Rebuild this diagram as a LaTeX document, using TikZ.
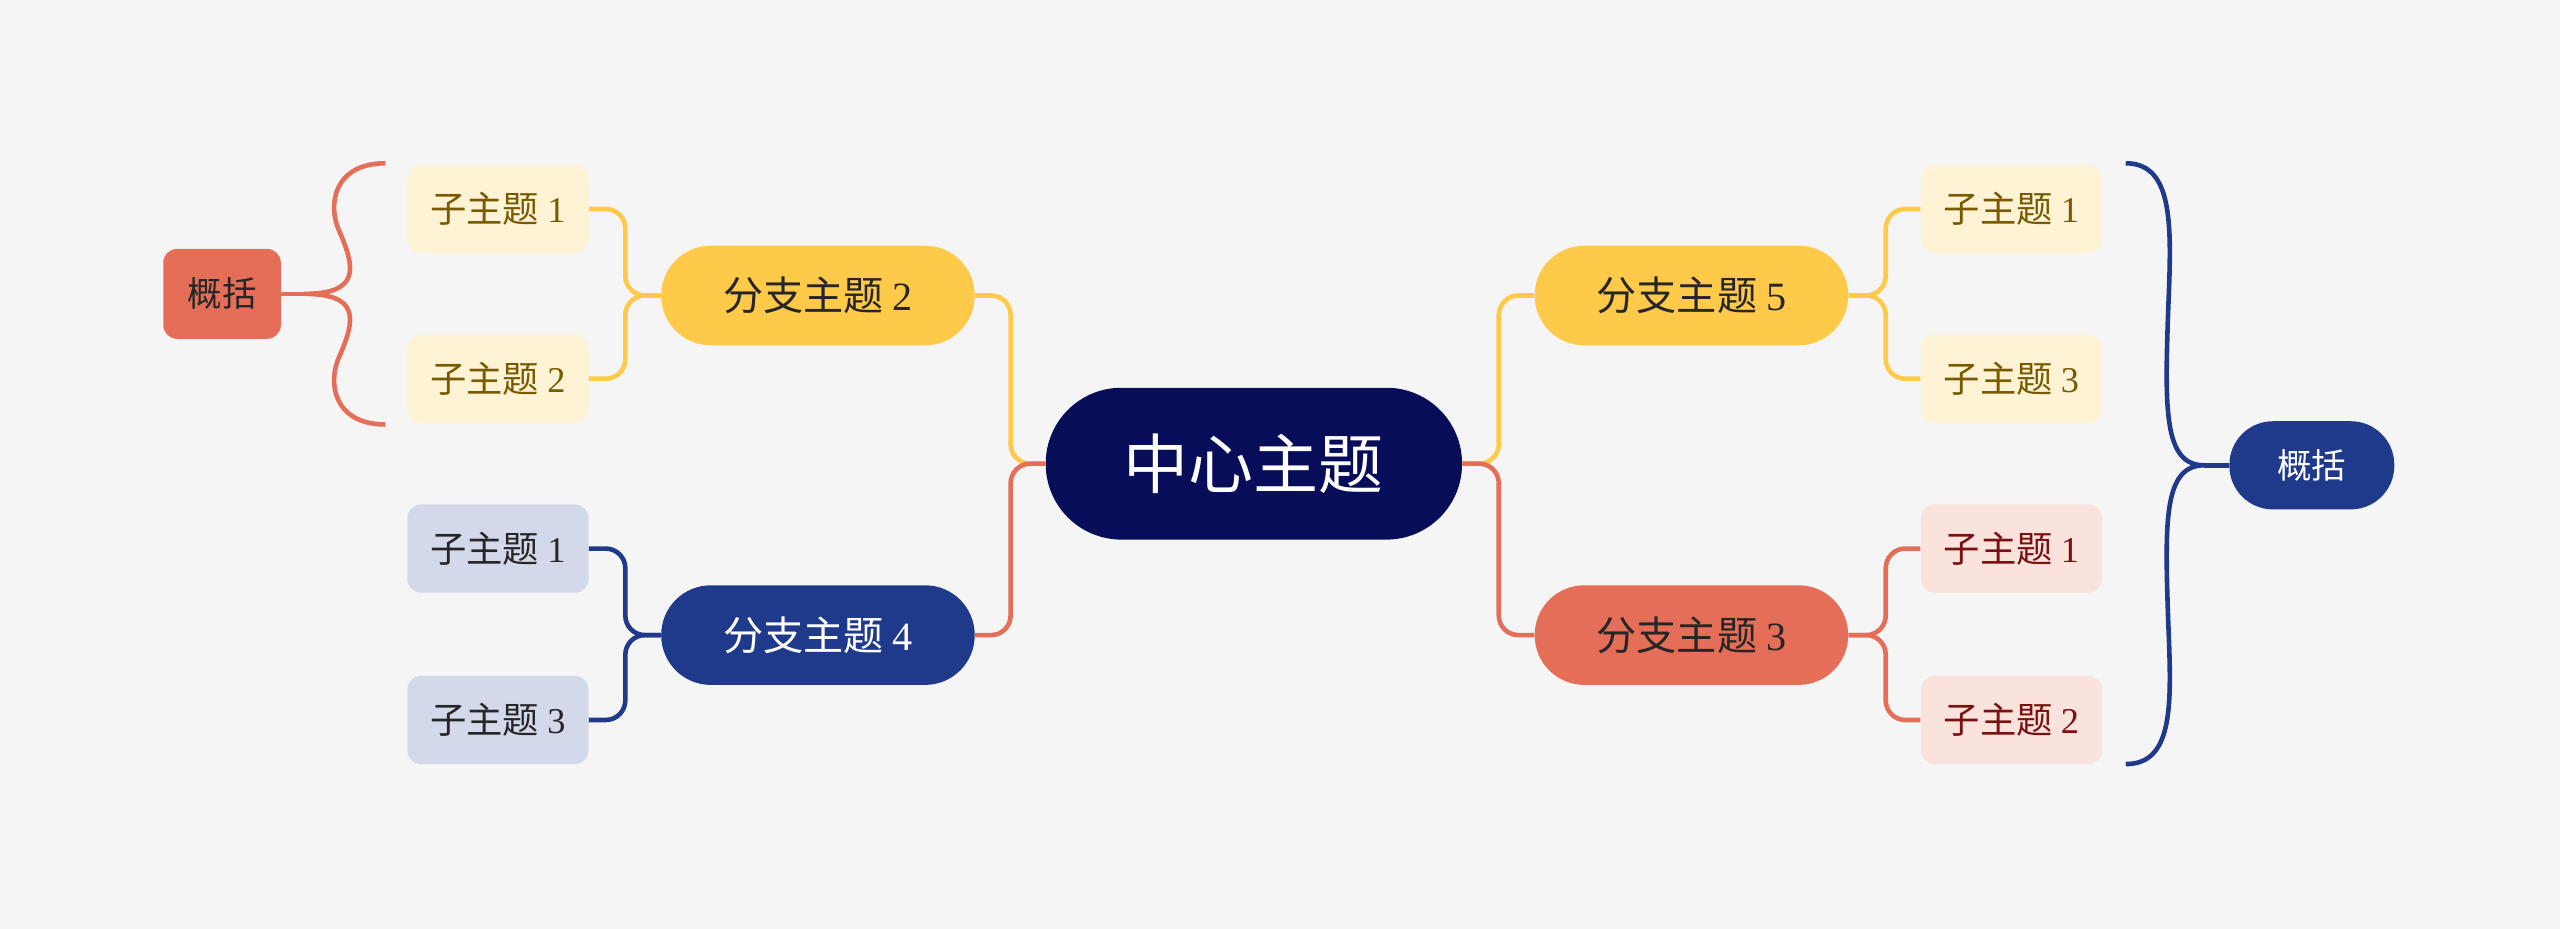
\documentclass[tikz,border=0pt]{standalone}
\usepackage{fontspec}
\setmainfont{Liberation Serif}
\newfontfamily\cjk{Noto Sans CJK SC}
\definecolor{bg}{HTML}{F5F5F5}
\definecolor{navy}{HTML}{070D59}
\definecolor{yel}{HTML}{FFC94A}
\definecolor{blu}{HTML}{1F3A8A}
\definecolor{cor}{HTML}{E46E58}
\definecolor{lyel}{HTML}{FFF3D6}
\definecolor{lblu}{HTML}{D3D9EA}
\definecolor{lcor}{HTML}{FBE3DD}
\definecolor{brn}{HTML}{7A5A00}
\definecolor{dred}{HTML}{7A1010}
\begin{document}
\begin{tikzpicture}[x=0.03cm,y=-0.03cm,
  box/.style={inner sep=0pt,align=center},
  center/.style={box,fill=navy,minimum width=7.65cm,minimum height=2.79cm,rounded corners=1.39cm,text=white,font=\fontsize{34}{36}\selectfont},
  branch/.style={box,minimum width=5.76cm,minimum height=1.83cm,rounded corners=0.91cm,font=\fontsize{21}{24}\selectfont},
  leaf/.style={box,minimum width=3.33cm,minimum height=1.62cm,rounded corners=0.25cm,font=\fontsize{19}{22}\selectfont},
  conn/.style={line width=2.4pt,rounded corners=0.36cm},
  brace/.style={line width=2.4pt}]
\fill[bg] (0,0) rectangle (1568,569);
\node[center] (c) at (768,284) {\cjk 中心主题};
\node[branch,fill=yel,text=black!85] (b2) at (501,181) {\cjk 分支主题 {\rmfamily 2}};
\node[branch,fill=blu,text=white] (b4) at (501,389) {\cjk 分支主题 {\rmfamily 4}};
\node[branch,fill=yel,text=black!85] (b5) at (1036,181) {\cjk 分支主题 {\rmfamily 5}};
\node[branch,fill=cor,text=black!85] (b3) at (1036,389) {\cjk 分支主题 {\rmfamily 3}};
\node[leaf,fill=lyel,text=brn] (l21) at (305,128) {\cjk 子主题 {\rmfamily 1}};
\node[leaf,fill=lyel,text=brn] (l22) at (305,232) {\cjk 子主题 {\rmfamily 2}};
\node[leaf,fill=lblu,text=black!85] (l41) at (305,336) {\cjk 子主题 {\rmfamily 1}};
\node[leaf,fill=lblu,text=black!85] (l43) at (305,441) {\cjk 子主题 {\rmfamily 3}};
\node[leaf,fill=lyel,text=brn] (l51) at (1232,128) {\cjk 子主题 {\rmfamily 1}};
\node[leaf,fill=lyel,text=brn] (l53) at (1232,232) {\cjk 子主题 {\rmfamily 3}};
\node[leaf,fill=lcor,text=dred] (l31) at (1232,336) {\cjk 子主题 {\rmfamily 1}};
\node[leaf,fill=lcor,text=dred] (l32) at (1232,441) {\cjk 子主题 {\rmfamily 2}};
\node[box,fill=cor,text=black!85,minimum width=2.16cm,minimum height=1.65cm,rounded corners=0.25cm,font=\fontsize{18}{20}\selectfont] (s1) at (136,180) {\cjk 概括};
\node[box,fill=blu,text=white,minimum width=3.03cm,minimum height=1.62cm,rounded corners=0.8cm,font=\fontsize{18}{20}\selectfont] (s2) at (1416,285) {\cjk 概括};
% center to branches
\draw[conn,yel] (b2.east) -- (619,181) -- (619,284) -- (c.west);
\draw[conn,cor] (b4.east) -- (619,389) -- (619,284) -- (c.west);
\draw[conn,yel] (b5.west) -- (918,181) -- (918,284) -- (c.east);
\draw[conn,cor] (b3.west) -- (918,389) -- (918,284) -- (c.east);
% branches to leaves
\draw[conn,yel] (l21.east) -- (383,128) -- (383,181) -- (b2.west);
\draw[conn,yel] (l22.east) -- (383,232) -- (383,181) -- (b2.west);
\draw[conn,blu] (l41.east) -- (383,336) -- (383,389) -- (b4.west);
\draw[conn,blu] (l43.east) -- (383,441) -- (383,389) -- (b4.west);
\draw[conn,yel] (b5.east) -- (1155,181) -- (1155,128) -- (l51.west);
\draw[conn,yel] (b5.east) -- (1155,181) -- (1155,232) -- (l53.west);
\draw[conn,cor] (b3.east) -- (1155,389) -- (1155,336) -- (l31.west);
\draw[conn,cor] (b3.east) -- (1155,389) -- (1155,441) -- (l32.west);
% braces
\coordinate (bl) at (186,180);
\draw[brace,cor] (236,100) .. controls (205,100) and (200,125) .. (208,142)
  .. controls (218,165) and (220,180) .. (bl)
  .. controls (220,180) and (218,195) .. (208,218)
  .. controls (200,235) and (205,260) .. (236,260);
\draw[brace,cor] (bl) -- (s1.east);
\coordinate (br) at (1350,285);
\draw[brace,blu] (1302,100) .. controls (1332,100) and (1330,140) .. (1328,190)
  .. controls (1326,250) and (1325,285) .. (br)
  .. controls (1325,285) and (1326,320) .. (1328,380)
  .. controls (1330,430) and (1332,468) .. (1302,468);
\draw[brace,blu] (br) -- (s2.west);
\end{tikzpicture}
\end{document}
